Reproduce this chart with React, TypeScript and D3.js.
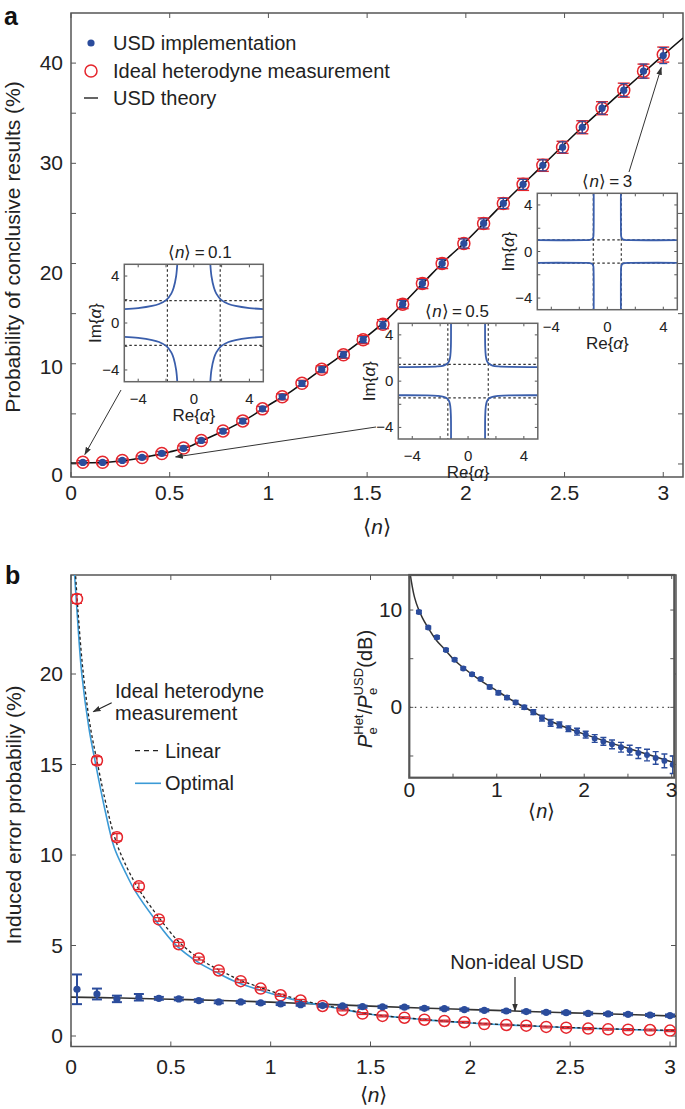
import React from 'react';
import * as d3 from 'd3';

const FONT = "'Liberation Sans', Arial, Helvetica, sans-serif";

// ---------- Panel a data ----------
const nA = [0.06, 0.16, 0.26, 0.36, 0.46, 0.57, 0.66, 0.77, 0.87, 0.97, 1.07, 1.17, 1.27, 1.38, 1.48, 1.58, 1.68, 1.78, 1.88, 1.99, 2.09, 2.19, 2.29, 2.39, 2.49, 2.59, 2.69, 2.8, 2.9, 3.0];
const usdImplA = [0.15, 0.15, 0.35, 0.65, 1.05, 1.55, 2.35, 3.27, 4.27, 5.5, 6.7, 8.03, 9.43, 10.9, 12.4, 13.85, 15.95, 18.0, 20.0, 22.0, 24.0, 26.0, 27.9, 29.8, 31.6, 33.6, 35.5, 37.3, 39.2, 40.75];
const usdImplErrA = [0.1, 0.1, 0.1, 0.1, 0.12, 0.12, 0.15, 0.15, 0.2, 0.2, 0.2, 0.25, 0.25, 0.3, 0.3, 0.35, 0.35, 0.4, 0.4, 0.45, 0.45, 0.5, 0.5, 0.55, 0.55, 0.6, 0.6, 0.65, 0.7, 0.8];
const hetA = [0.18, 0.18, 0.35, 0.65, 1.05, 1.6, 2.35, 3.3, 4.3, 5.5, 6.7, 8.05, 9.45, 10.9, 12.4, 13.95, 15.95, 18.0, 20.0, 22.0, 24.0, 26.0, 27.9, 29.8, 31.6, 33.6, 35.5, 37.3, 39.2, 40.85];
const hetErrA = [0.15, 0.15, 0.15, 0.15, 0.2, 0.2, 0.2, 0.2, 0.25, 0.25, 0.3, 0.3, 0.35, 0.35, 0.4, 0.45, 0.45, 0.5, 0.5, 0.5, 0.55, 0.55, 0.6, 0.6, 0.6, 0.65, 0.65, 0.7, 0.7, 0.75];
const theoryNA = [0, 0.1, 0.2, 0.3, 0.4, 0.5, 0.6, 0.7, 0.8, 0.9, 1.0, 1.1, 1.2, 1.3, 1.4, 1.5, 1.6, 1.7, 1.8, 1.9, 2.0, 2.2, 2.4, 2.6, 2.8, 3.0, 3.1];
const theoryA = [0.1, 0.12, 0.2, 0.42, 0.78, 1.2, 1.75, 2.65, 3.55, 4.6, 5.85, 7.05, 8.45, 9.85, 11.25, 12.75, 14.4, 16.35, 18.4, 20.4, 22.2, 26.2, 30.0, 33.8, 37.3, 40.8, 42.5];
const yTicksA = [0, 10, 20, 30, 40];
const yMinorA = [5, 15, 25, 35];
const xTicksA = [0, 0.5, 1, 1.5, 2, 2.5, 3];
const xTickLabelsA = ['0', '0.5', '1', '1.5', '2', '2.5', '3'];

// inset decision boundaries (first quadrant, Re, Im), mirrored to the four quadrants
const boundary01 = [[1.19, 5], [1.27, 4], [1.45, 3], [1.62, 2.5], [1.97, 1.97], [2.5, 1.62], [3, 1.45], [4, 1.27], [5, 1.19]];
const boundary05 = [[1.22, 5], [1.23, 3], [1.27, 2.2], [1.35, 1.75], [1.5, 1.5], [1.75, 1.35], [2.2, 1.27], [3, 1.23], [5, 1.22]];
const boundary3 = [[0.97, 5], [0.98, 1.6], [1.0, 1.25], [1.06, 1.1], [1.1, 1.06], [1.25, 1.0], [1.6, 0.98], [5, 0.97]];
const thresholds = [1.9, 1.45, 1.0];
const insetTitles = ['0.1', '0.5', '3'];
const insetTicks = [-4, 0, 4];

// ---------- Panel b data ----------
const nB = [0.03, 0.13, 0.23, 0.34, 0.44, 0.54, 0.64, 0.74, 0.85, 0.95, 1.05, 1.15, 1.26, 1.36, 1.46, 1.56, 1.67, 1.77, 1.87, 1.97, 2.07, 2.18, 2.28, 2.38, 2.48, 2.59, 2.69, 2.79, 2.9, 3.0];
const hetB = [24.15, 15.22, 10.98, 8.27, 6.44, 5.07, 4.28, 3.62, 3.03, 2.62, 2.25, 1.96, 1.66, 1.44, 1.24, 1.11, 1.01, 0.9, 0.83, 0.76, 0.66, 0.61, 0.57, 0.5, 0.46, 0.41, 0.37, 0.35, 0.33, 0.3];
const hetErrB = [0.25, 0.22, 0.2, 0.18, 0.1, 0.1, 0.08, 0.08, 0.07, 0.07, 0.06, 0.06, 0.06, 0.05, 0.05, 0.05, 0.05, 0.05, 0.05, 0.05, 0.05, 0.05, 0.05, 0.05, 0.05, 0.05, 0.05, 0.05, 0.05, 0.05];
const usdB = [2.58, 2.32, 2.05, 2.14, 2.08, 2.05, 1.96, 1.88, 1.88, 1.83, 1.77, 1.73, 1.68, 1.66, 1.62, 1.61, 1.59, 1.53, 1.51, 1.46, 1.42, 1.38, 1.35, 1.31, 1.29, 1.25, 1.22, 1.2, 1.16, 1.13];
const usdErrB = [0.82, 0.3, 0.18, 0.18, 0.08, 0.08, 0.07, 0.07, 0.06, 0.06, 0.06, 0.06, 0.06, 0.06, 0.06, 0.06, 0.06, 0.06, 0.06, 0.06, 0.06, 0.06, 0.06, 0.06, 0.06, 0.06, 0.06, 0.06, 0.06, 0.06];
const optimalN = [0.015, 0.03, 0.054, 0.09, 0.124, 0.17, 0.217, 0.27, 0.322, 0.42, 0.523, 0.64, 0.74, 0.825, 0.957, 1.1, 1.24, 1.35, 1.5, 1.75, 2.0, 2.25, 2.5, 2.75, 3.03];
const optimalB = [26, 23.5, 20, 17, 15, 12.5, 10.4, 9.1, 8, 6.45, 5.05, 4.05, 3.45, 3.0, 2.5, 2.05, 1.72, 1.5, 1.2, 0.92, 0.72, 0.58, 0.46, 0.37, 0.29];
const linearN = [0.02, 0.035, 0.06, 0.095, 0.13, 0.18, 0.23, 0.285, 0.34, 0.44, 0.545, 0.66, 0.76, 0.845, 0.975, 1.12, 1.25, 1.36, 1.5, 1.75, 2.0, 2.25, 2.5, 2.75, 3.03];
const linearB = [26, 23.5, 20.2, 17.2, 15.2, 12.6, 10.6, 9.2, 8.1, 6.55, 5.15, 4.15, 3.55, 3.1, 2.58, 2.08, 1.74, 1.5, 1.21, 0.93, 0.73, 0.59, 0.47, 0.38, 0.3];
const nonIdealN = [0, 0.25, 0.5, 0.75, 1.0, 1.25, 1.5, 1.75, 2.0, 2.25, 2.5, 2.75, 3.03];
const nonIdealB = [2.15, 2.1, 2.03, 1.96, 1.87, 1.76, 1.65, 1.55, 1.46, 1.37, 1.28, 1.2, 1.1];
const yTicksB = [0, 5, 10, 15, 20];
const xTicksB = [0, 0.5, 1, 1.5, 2, 2.5, 3];
const xTickLabelsB = ['0', '0.5', '1', '1.5', '2', '2.5', '3'];

// inset b (ratio in dB)
const nInset = [0.11, 0.217, 0.316, 0.419, 0.518, 0.617, 0.717, 0.816, 0.919, 1.018, 1.117, 1.216, 1.315, 1.418, 1.517, 1.616, 1.716, 1.819, 1.918, 2.017, 2.12, 2.219, 2.318, 2.421, 2.52, 2.619, 2.718, 2.817, 2.917, 3.012];
const ratioDb = [9.8, 8.2, 7.2, 5.9, 4.9, 4.0, 3.4, 2.9, 2.1, 1.5, 1.0, 0.5, 0.0, -0.5, -1.1, -1.6, -1.8, -2.2, -2.5, -2.8, -3.2, -3.5, -3.8, -4.1, -4.4, -4.7, -4.9, -5.2, -5.5, -5.9];
const ratioErr = [0.15, 0.15, 0.15, 0.15, 0.15, 0.15, 0.15, 0.15, 0.2, 0.2, 0.2, 0.2, 0.2, 0.25, 0.3, 0.35, 0.3, 0.3, 0.35, 0.35, 0.4, 0.4, 0.45, 0.5, 0.5, 0.55, 0.6, 0.65, 0.7, 0.9];
const ratioTheoryN = [0.012, 0.03, 0.06, 0.1, 0.15, 0.2, 0.3, 0.4, 0.5, 0.6, 0.8, 1.0, 1.2, 1.4, 1.6, 1.8, 2.0, 2.25, 2.5, 2.75, 3.03];
const ratioTheory = [13.6, 12.6, 11.3, 10.2, 9.2, 8.4, 7.0, 6.0, 5.0, 4.2, 2.85, 1.7, 0.6, -0.4, -1.35, -2.1, -2.75, -3.5, -4.2, -4.9, -5.7];
const xTicksI = [0, 1, 2, 3];
const yTicksI = [0, 10];

const BLUE = '#2b4c9c';
const RED = '#e5262d';
const LIGHTBLUE = '#3b9ad6';
const CURVEBLUE = '#3a5eab';
const AXIS = '#555';

function N({ eq }: { eq?: string }) {
  return (
    <>
      <tspan>⟨</tspan>
      <tspan fontStyle="italic">n</tspan>
      <tspan>⟩</tspan>
      {eq ? <tspan>{'\u2009=\u2009' + eq}</tspan> : null}
    </>
  );
}

function ErrBar({ x, y0, y1, w, color, sw = 1.3 }: any) {
  return (
    <g stroke={color} strokeWidth={sw} fill="none">
      <line x1={x} x2={x} y1={y0} y2={y1} />
      <line x1={x - w} x2={x + w} y1={y0} y2={y0} />
      <line x1={x - w} x2={x + w} y1={y1} y2={y1} />
    </g>
  );
}

function AlphaInset({ box, curve, thr, title, titleDx, id }: any) {
  const [x0, x1, y0, y1] = box;
  const sx = d3.scaleLinear().domain([-5, 5]).range([x0, x1]);
  const sy = d3.scaleLinear().domain([-5, 5]).range([y1, y0]);
  const quads = [[1, 1], [-1, 1], [1, -1], [-1, -1]];
  const line = d3
    .line<number[]>()
    .x((d) => sx(d[0]))
    .y((d) => sy(d[1]))
    .curve(d3.curveCatmullRom.alpha(0.5));
  const minor = [-4, -2, 0, 2, 4];
  return (
    <g>
      <defs>
        <clipPath id={id}>
          <rect x={x0} y={y0} width={x1 - x0} height={y1 - y0} />
        </clipPath>
      </defs>
      <rect x={x0} y={y0} width={x1 - x0} height={y1 - y0} fill="#fff" />
      <g clipPath={`url(#${id})`}>
        {[-thr, thr].map((t, i) => (
          <g key={i} stroke="#333" strokeWidth={1.2} strokeDasharray="2.5,2.5">
            <line x1={sx(t)} x2={sx(t)} y1={y0} y2={y1} />
            <line x1={x0} x2={x1} y1={sy(t)} y2={sy(t)} />
          </g>
        ))}
        {quads.map(([qx, qy], i) => (
          <path key={i} d={line(curve.map((p: number[]) => [p[0] * qx, p[1] * qy])) || ''} fill="none" stroke={CURVEBLUE} strokeWidth={1.8} />
        ))}
      </g>
      <g stroke={AXIS} strokeWidth={1}>
        {minor.map((t) => (
          <g key={t}>
            <line x1={sx(t)} x2={sx(t)} y1={y1} y2={y1 - 3} />
            <line x1={sx(t)} x2={sx(t)} y1={y0} y2={y0 + 3} />
            <line x1={x0} x2={x0 + 3} y1={sy(t)} y2={sy(t)} />
            <line x1={x1} x2={x1 - 3} y1={sy(t)} y2={sy(t)} />
          </g>
        ))}
      </g>
      <rect x={x0} y={y0} width={x1 - x0} height={y1 - y0} fill="none" stroke="#666" strokeWidth={1.5} />
      <g fontSize={15} fill="#222">
        {insetTicks.map((t) => (
          <text key={'x' + t} x={sx(t)} y={y1 + 22} textAnchor="middle">
            {t < 0 ? '\u2212' + Math.abs(t) : t}
          </text>
        ))}
        {insetTicks.map((t) => (
          <text key={'y' + t} x={x0 - 5} y={sy(t) + 5} textAnchor="end">
            {t < 0 ? '\u2212' + Math.abs(t) : t}
          </text>
        ))}
      </g>
      <text x={(x0 + x1) / 2} y={y1 + 39} textAnchor="middle" fontSize={17} fill="#222">
        Re{'{'}<tspan fontStyle="italic">α</tspan>{'}'}
      </text>
      <text transform={`translate(${x0 - 23},${(y0 + y1) / 2}) rotate(-90)`} textAnchor="middle" fontSize={17} fill="#222">
        Im{'{'}<tspan fontStyle="italic">α</tspan>{'}'}
      </text>
      <text x={(x0 + x1) / 2 + titleDx} y={y0 - 6} textAnchor="middle" fontSize={17} fill="#222">
        <N eq={title} />
      </text>
    </g>
  );
}

export default function App() {
  // ---------- Panel a scales ----------
  const xA = d3.scaleLinear().domain([0, 3.1]).range([71, 683]);
  const yA = d3.scaleLinear().domain([-1.3, 45]).range([477, 13]);
  const theoryLineA = d3
    .line<number>()
    .x((_, i) => xA(theoryNA[i]))
    .y((d) => yA(d))
    .curve(d3.curveCatmullRom.alpha(0.5));
  const yLabelDyA: Record<number, number> = { 0: 11, 10: 3, 20: 9, 30: 0, 40: 0 };

  // ---------- Panel b scales ----------
  const xB = d3.scaleLinear().domain([0, 3.03]).range([71, 676]);
  const yB = d3.scaleLinear().domain([-0.58, 25.47]).range([1046.5, 575]);
  const mk = (ns: number[]) =>
    d3
      .line<number>()
      .x((_, i) => xB(ns[i]))
      .y((d) => yB(d))
      .curve(d3.curveCatmullRom.alpha(0.5));

  // ---------- Inset b scales ----------
  const xI = d3.scaleLinear().domain([0, 3.03]).range([409.3, 674.3]);
  const yI = d3.scaleLinear().domain([-7.23, 13.6]).range([777.7, 575]);
  const ratioLine = d3
    .line<number>()
    .x((_, i) => xI(ratioTheoryN[i]))
    .y((d) => yI(d))
    .curve(d3.curveCatmullRom.alpha(0.5));

  const aX0 = xA.range()[0], aX1 = xA.range()[1], aY0 = yA.range()[1], aY1 = yA.range()[0];
  const bX0 = xB.range()[0], bX1 = xB.range()[1], bY0 = yB.range()[1], bY1 = yB.range()[0];
  const iX0 = xI.range()[0], iX1 = xI.range()[1], iY0 = yI.range()[1], iY1 = yI.range()[0];

  return (
    <svg width={685} height={1109} style={{ position: 'absolute', left: 0, top: 0, background: '#fff' }} fontFamily={FONT}>
      <defs>
        <marker id="ah" viewBox="0 0 10 10" refX="9" refY="5" markerWidth="8" markerHeight="8" orient="auto-start-reverse" markerUnits="userSpaceOnUse">
          <path d="M0,1.5 L10,5 L0,8.5 z" fill="#333" />
        </marker>
        <clipPath id="clipA">
          <rect x={aX0} y={aY0} width={aX1 - aX0} height={aY1 - aY0} />
        </clipPath>
        <clipPath id="clipB">
          <rect x={bX0} y={bY0} width={bX1 - bX0} height={bY1 - bY0} />
        </clipPath>
        <clipPath id="clipI">
          <rect x={iX0} y={iY0} width={iX1 - iX0} height={iY1 - iY0} />
        </clipPath>
      </defs>

      {/* ================= Panel a ================= */}
      <text x={4} y={25} fontSize={25} fontWeight="bold" fill="#111">a</text>
      <g stroke={AXIS} strokeWidth={1}>
        {xTicksA.map((t) => (
          <g key={t}>
            <line x1={xA(t)} x2={xA(t)} y1={aY1} y2={aY1 - 5} />
            <line x1={xA(t)} x2={xA(t)} y1={aY0} y2={aY0 + 5} />
          </g>
        ))}
        {[...yTicksA, ...yMinorA].map((t) => (
          <g key={t}>
            <line x1={aX0} x2={aX0 + 5} y1={yA(t)} y2={yA(t)} />
            <line x1={aX1} x2={aX1 - 5} y1={yA(t)} y2={yA(t)} />
          </g>
        ))}
      </g>
      <rect x={aX0} y={aY0} width={aX1 - aX0} height={aY1 - aY0} fill="none" stroke={AXIS} strokeWidth={1.5} />
      <g fontSize={21} fill="#222">
        {xTicksA.map((t, i) => (
          <text key={t} x={xA(t)} y={aY1 + 23} textAnchor="middle">{xTickLabelsA[i]}</text>
        ))}
        {yTicksA.map((t) => (
          <text key={t} x={aX0 - 8} y={yA(t) + 7 + (yLabelDyA[t] || 0)} textAnchor="end">{t}</text>
        ))}
      </g>
      <text x={(aX0 + aX1) / 2} y={534} textAnchor="middle" fontSize={21} fill="#222"><N /></text>
      <text transform={`translate(20,247) rotate(-90)`} textAnchor="middle" fontSize={21} fill="#222">
        Probability of conclusive results (%)
      </text>

      {/* theory + data */}
      <path d={theoryLineA(theoryA) || ''} fill="none" stroke="#111" strokeWidth={1.6} clipPath="url(#clipA)" />
      {nA.map((n, i) => (
        <g key={'ha' + i}>
          <ErrBar x={xA(n)} y0={yA(hetA[i] - hetErrA[i])} y1={yA(hetA[i] + hetErrA[i])} w={6} color={RED} sw={1.4} />
          <circle cx={xA(n)} cy={yA(hetA[i])} r={6} fill="none" stroke={RED} strokeWidth={1.5} />
        </g>
      ))}
      {nA.map((n, i) => (
        <g key={'ua' + i}>
          <ErrBar x={xA(n)} y0={yA(usdImplA[i] - usdImplErrA[i])} y1={yA(usdImplA[i] + usdImplErrA[i])} w={4} color={BLUE} sw={1.2} />
          <circle cx={xA(n)} cy={yA(usdImplA[i])} r={3.6} fill={BLUE} />
        </g>
      ))}

      {/* legend a */}
      <circle cx={91} cy={43} r={3.6} fill={BLUE} />
      <text x={113} y={50} fontSize={20} fill="#222">USD implementation</text>
      <circle cx={91} cy={71} r={6} fill="none" stroke={RED} strokeWidth={1.5} />
      <text x={113} y={78} fontSize={20} fill="#222">Ideal heterodyne measurement</text>
      <line x1={84} x2={98} y1={98} y2={98} stroke="#111" strokeWidth={1.3} />
      <text x={113} y={105} fontSize={20} fill="#222">USD theory</text>

      {/* insets a */}
      <AlphaInset id="in1" box={[124.3, 263.3, 264.3, 381.7]} curve={boundary01} thr={thresholds[0]} title={insetTitles[0]} titleDx={6} />
      <AlphaInset id="in2" box={[398.3, 537.8, 323.3, 439]} curve={boundary05} thr={thresholds[1]} title={insetTitles[1]} titleDx={-11} />
      <AlphaInset id="in3" box={[537.3, 677.3, 193.3, 309.7]} curve={boundary3} thr={thresholds[2]} title={insetTitles[2]} titleDx={0} />

      {/* arrows a */}
      <g stroke="#333" strokeWidth={1}>
        <line x1={121} y1={390} x2={xA(nA[0]) + 2} y2={yA(usdImplA[0]) - 8} markerEnd="url(#ah)" />
        <line x1={376} y1={427} x2={xA(0.53)} y2={yA(0.7)} markerEnd="url(#ah)" />
        <line x1={629} y1={172} x2={xA(nA[29]) - 2} y2={yA(usdImplA[29]) + 12} markerEnd="url(#ah)" />
      </g>

      {/* ================= Panel b ================= */}
      <text x={5} y={584} fontSize={25} fontWeight="bold" fill="#111">b</text>
      <g stroke={AXIS} strokeWidth={1}>
        {xTicksB.map((t) => (
          <g key={t}>
            <line x1={xB(t)} x2={xB(t)} y1={bY1} y2={bY1 - 5} />
            <line x1={xB(t)} x2={xB(t)} y1={bY0} y2={bY0 + 5} />
          </g>
        ))}
        {yTicksB.map((t) => (
          <g key={t}>
            <line x1={bX0} x2={bX0 + 5} y1={yB(t)} y2={yB(t)} />
            <line x1={bX1} x2={bX1 - 5} y1={yB(t)} y2={yB(t)} />
          </g>
        ))}
      </g>
      <rect x={bX0} y={bY0} width={bX1 - bX0} height={bY1 - bY0} fill="none" stroke={AXIS} strokeWidth={1.5} />
      <g fontSize={21} fill="#222">
        {xTicksB.map((t, i) => (
          <text key={t} x={xB(t)} y={bY1 + 27} textAnchor="middle">{xTickLabelsB[i]}</text>
        ))}
        {yTicksB.map((t) => (
          <text key={t} x={bX0 - 8} y={yB(t) + 7} textAnchor="end">{t}</text>
        ))}
      </g>
      <text x={(bX0 + bX1) / 2} y={1102} textAnchor="middle" fontSize={21} fill="#222"><N /></text>
      <text transform={`translate(21,815) rotate(-90)`} textAnchor="middle" fontSize={21} fill="#222">
        Induced error probabiliy (%)
      </text>

      <g clipPath="url(#clipB)">
        <path d={mk(nonIdealN)(nonIdealB) || ''} fill="none" stroke="#333" strokeWidth={1.6} />
        <path d={mk(optimalN)(optimalB) || ''} fill="none" stroke={LIGHTBLUE} strokeWidth={1.6} />
        <path d={mk(linearN)(linearB) || ''} fill="none" stroke="#222" strokeWidth={1.3} strokeDasharray="3,2.5" />
        {nB.map((n, i) => (
          <g key={'hb' + i}>
            <ErrBar x={xB(n)} y0={yB(hetB[i] - hetErrB[i])} y1={yB(hetB[i] + hetErrB[i])} w={5} color={RED} sw={1.3} />
            <circle cx={xB(n)} cy={yB(hetB[i])} r={5.5} fill="none" stroke={RED} strokeWidth={1.5} />
          </g>
        ))}
        {nB.map((n, i) => (
          <g key={'ub' + i}>
            <ErrBar x={xB(n)} y0={yB(usdB[i] - usdErrB[i])} y1={yB(usdB[i] + usdErrB[i])} w={5} color={BLUE} sw={2} />
            <circle cx={xB(n)} cy={yB(usdB[i])} r={3.6} fill={BLUE} />
          </g>
        ))}
      </g>

      {/* legend / annotations b */}
      <text x={115} y={698} fontSize={20} fill="#222">Ideal heterodyne</text>
      <text x={115} y={720} fontSize={20} fill="#222">measurement</text>
      <line x1={111.7} y1={702.7} x2={93.3} y2={711.7} stroke="#222" strokeWidth={1.2} markerEnd="url(#ah)" />
      <line x1={135} x2={161} y1={750.7} y2={750.7} stroke="#222" strokeWidth={1.3} strokeDasharray="5,4" />
      <text x={165} y={757.5} fontSize={20} fill="#222">Linear</text>
      <line x1={135} x2={161} y1={783.3} y2={783.3} stroke={LIGHTBLUE} strokeWidth={1.6} />
      <text x={165} y={790} fontSize={20} fill="#222">Optimal</text>
      <text x={517} y={969} textAnchor="middle" fontSize={20} fill="#222">Non-ideal USD</text>
      <line x1={515} y1={977} x2={515} y2={1011} stroke="#222" strokeWidth={1.2} markerEnd="url(#ah)" />

      {/* ================= Inset b ================= */}
      <rect x={iX0} y={iY0} width={iX1 - iX0} height={iY1 - iY0} fill="#fff" />
      <g stroke={AXIS} strokeWidth={1}>
        {[0, 0.5, 1, 1.5, 2, 2.5, 3].map((t) => (
          <g key={t}>
            <line x1={xI(t)} x2={xI(t)} y1={iY1} y2={iY1 - 4} />
            <line x1={xI(t)} x2={xI(t)} y1={iY0} y2={iY0 + 4} />
          </g>
        ))}
        {[-5, 0, 5, 10].map((t) => (
          <g key={t}>
            <line x1={iX0} x2={iX0 + 4} y1={yI(t)} y2={yI(t)} />
            <line x1={iX1} x2={iX1 - 4} y1={yI(t)} y2={yI(t)} />
          </g>
        ))}
      </g>
      <g clipPath="url(#clipI)">
        <line x1={iX0} x2={iX1} y1={yI(0)} y2={yI(0)} stroke="#444" strokeWidth={1.2} strokeDasharray="1.5,4" />
        <path d={ratioLine(ratioTheory) || ''} fill="none" stroke="#333" strokeWidth={1.5} />
        {nInset.map((n, i) => (
          <g key={'ri' + i}>
            <ErrBar x={xI(n)} y0={yI(ratioDb[i] - ratioErr[i])} y1={yI(ratioDb[i] + ratioErr[i])} w={3} color={BLUE} sw={1.4} />
            <circle cx={xI(n)} cy={yI(ratioDb[i])} r={3} fill={BLUE} />
          </g>
        ))}
      </g>
      <rect x={iX0} y={iY0} width={iX1 - iX0} height={iY1 - iY0} fill="none" stroke="#555" strokeWidth={2.2} />
      <g fontSize={21} fill="#222">
        {xTicksI.map((t) => (
          <text key={t} x={xI(t)} y={iY1 + 19} textAnchor="middle">{t}</text>
        ))}
        {yTicksI.map((t) => (
          <text key={t} x={iX0 - 7} y={yI(t) + 7} textAnchor="end">{t}</text>
        ))}
      </g>
      <text x={(iX0 + iX1) / 2} y={818} textAnchor="middle" fontSize={20} fill="#222"><N /></text>
      <text transform={`translate(372,689) rotate(-90)`} textAnchor="middle" fontSize={20} fill="#222">
        <tspan fontStyle="italic">P</tspan>
        <tspan fontSize={13} dy={-9}>Het</tspan>
        <tspan fontSize={13} dx={-20} dy={14}>e</tspan>
        <tspan dx={13} dy={-5}>/</tspan>
        <tspan fontStyle="italic">P</tspan>
        <tspan fontSize={13} dy={-9}>USD</tspan>
        <tspan fontSize={13} dx={-27} dy={14}>e</tspan>
        <tspan dx={20} dy={-5}>(dB)</tspan>
      </text>
    </svg>
  );
}
